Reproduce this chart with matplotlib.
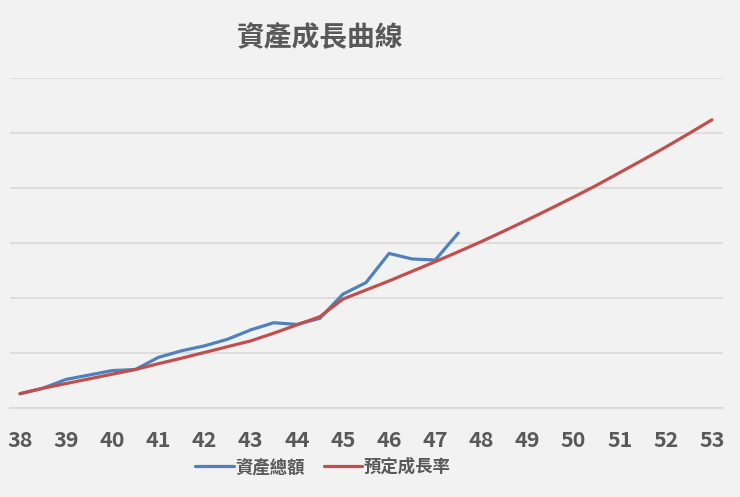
import matplotlib
matplotlib.use("Agg")
import matplotlib.pyplot as plt
import numpy as np

plt.rcParams['font.family'] = ['Noto Sans CJK TC', 'DejaVu Sans']

# ages (half-year steps)
ages_actual = [38, 38.5, 39, 39.5, 40, 40.5, 41, 41.5, 42, 42.5, 43, 43.5, 44, 44.5,
               45, 45.5, 46, 46.5, 47, 47.5]
asset_total = [26, 36, 52, 60, 68, 70, 92, 104, 113, 125, 142, 155, 152, 163,
               207, 228, 281, 271, 269, 318]

ages_plan = [38, 38.5, 39, 39.5, 40, 40.5, 41, 41.5, 42, 42.5, 43, 43.5, 44, 44.5,
             45, 45.5, 46, 46.5, 47, 47.5, 48, 48.5, 49, 49.5, 50, 50.5, 51, 51.5,
             52, 52.5, 53]
plan_growth = [26, 36, 44.5, 53, 61.5, 70, 80.5, 90.5, 101, 111.5, 122, 136, 151, 166,
               198, 214.5, 231, 248.5, 266, 284, 302.5, 322, 342, 362.5, 383.5, 405,
               428, 451, 474.5, 499, 524]

xticks = list(range(38, 54))
yticks = [0, 100, 200, 300, 400, 500, 600]

bg = '#f2f2f2'
fig = plt.figure(figsize=(7.40, 4.97), dpi=100, facecolor=bg)
ax = fig.add_axes([10/740, 89/497, 713/740, 330/497], facecolor=bg)

ax.plot(ages_actual, asset_total, color='#4F81BD', lw=2.3, label='資產總額',
        solid_joinstyle='round', solid_capstyle='round', zorder=3)
ax.plot(ages_plan, plan_growth, color='#C0504D', lw=2.3, label='預定成長率',
        solid_joinstyle='round', solid_capstyle='round', zorder=3)

ax.set_xlim(38 - 10/46.13, 38 + 703/46.13)
ax.set_ylim(0, 600)
ax.set_yticks(yticks)
ax.set_xticks(xticks)
ax.set_xticklabels([str(t) for t in xticks], fontsize=15.5, fontweight='bold', color='#595959')
ax.tick_params(axis='x', length=0, pad=16)
ax.tick_params(axis='y', length=0, labelleft=False)
ax.grid(axis='y', color='#d9d9d9', lw=1.2, zorder=0)
ax.grid(axis='x', visible=False)
for s in ['top', 'right', 'left']:
    ax.spines[s].set_visible(False)
ax.spines['bottom'].set_color('#d9d9d9')
ax.spines['bottom'].set_linewidth(1.2)

fig.text(320/740, 1 - 38/497, '資產成長曲線', ha='center', va='center',
         fontsize=20, fontweight='bold', color='#595959')

leg = fig.legend(loc='center', bbox_to_anchor=(323/740, 1 - 467/497), ncol=2,
                 frameon=False, fontsize=12.5, handlelength=2.2, handletextpad=0.1,
                 columnspacing=1.1)
for t in leg.get_texts():
    t.set_color('#595959')
    t.set_fontweight('bold')

fig.savefig('out.png', dpi=100, facecolor=bg)
